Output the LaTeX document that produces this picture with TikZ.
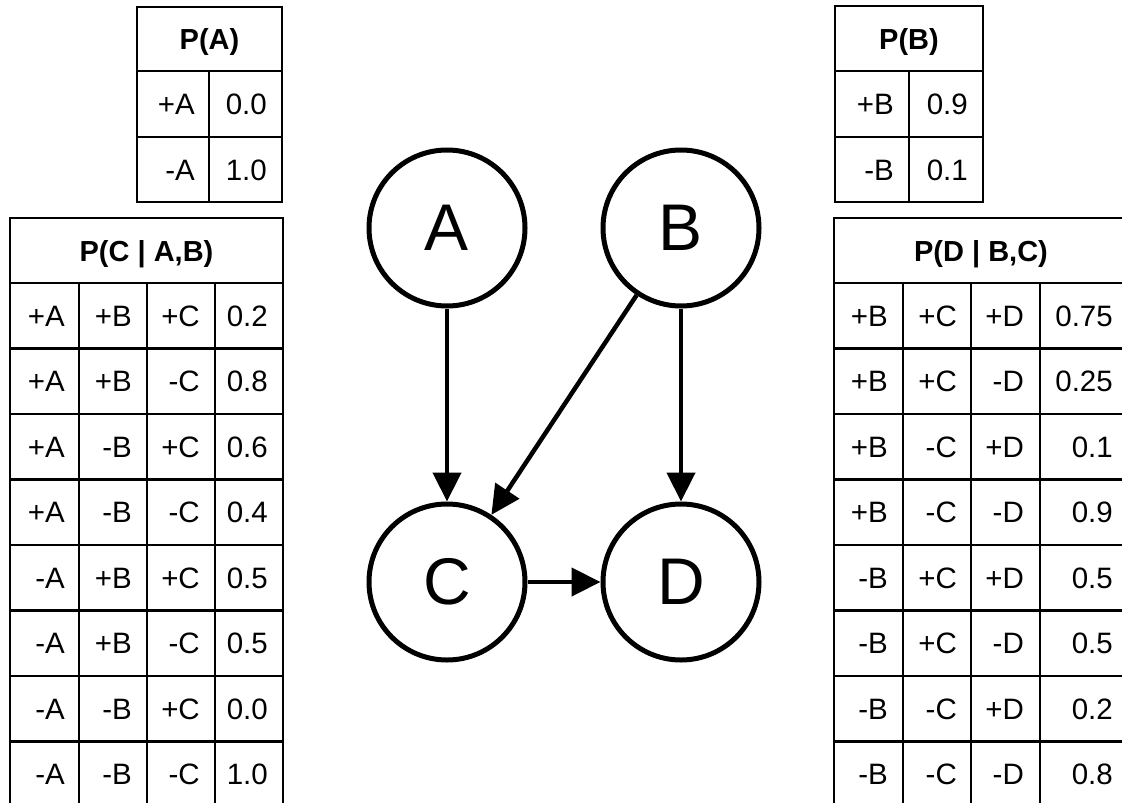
\documentclass[tikz,border=0pt]{standalone}
\usepackage{fontspec}
\setmainfont{Liberation Sans}
\usetikzlibrary{arrows.meta}
\begin{document}
\begin{tikzpicture}[x=1pt,y=-1pt,
  grid/.style={line width=2.2pt, line cap=rect},
  cell/.style={anchor=base east, inner sep=0pt, font=\fontsize{29.5}{32}\selectfont},
  head/.style={anchor=base, inner sep=0pt, font=\fontsize{29}{32}\selectfont\bfseries},
  var/.style={circle, draw, line width=5pt, minimum size=156pt, inner sep=0pt,
    font=\fontsize{66}{72}\selectfont},
  edge/.style={line width=4.5pt, -{Triangle[length=29pt,width=28pt]}}]
\useasboundingbox (0,0) rectangle (1122,803);

% ---- P(A) ----
\draw[grid] (137,7) rectangle (282,71);
\draw[grid] (137,71) rectangle (282,202);
\draw[grid] (137,137) -- (282,137);
\draw[grid] (209,71) -- (209,202);
\node[head] (pa-h) at (209.5,49.5) {P(A)};
\node[cell] (pa-11) at (195,114.5) {+A};
\node[cell] (pa-12) at (267,114.5) {0.0};
\node[cell] (pa-21) at (195,180) {-A};
\node[cell] (pa-22) at (267,180) {1.0};

% ---- P(B) ----
\draw[grid] (835,6) rectangle (983,71);
\draw[grid] (835,71) rectangle (983,202);
\draw[grid] (835,137) -- (983,137);
\draw[grid] (909,71) -- (909,202);
\node[head] (pb-h) at (909,49) {P(B)};
\node[cell] (pb-11) at (894,114.5) {+B};
\node[cell] (pb-12) at (968,114.5) {0.9};
\node[cell] (pb-21) at (894,180) {-B};
\node[cell] (pb-22) at (968,180) {0.1};

% ---- P(C | A,B) ----
\draw[grid] (10,218) rectangle (283,283);
\draw[grid] (10,283) rectangle (283,807);
\foreach \i in {1,...,7}
  \draw[grid] (10,283+65.5*\i) -- (283,283+65.5*\i);
\foreach \x in {79,147,215}
  \draw[grid] (\x,283) -- (\x,807);
\node[head] (pc-h) at (146.5,261) {P(C | A,B)};
\foreach \a/\b/\c/\p [count=\i from 0] in
  {+A/+B/+C/0.2, +A/+B/-C/0.8, +A/-B/+C/0.6, +A/-B/-C/0.4,
   -A/+B/+C/0.5, -A/+B/-C/0.5, -A/-B/+C/0.0, -A/-B/-C/1.0}{
  \pgfmathsetmacro\yy{283+65.5*\i+32.75+10.5}
  \node[cell] (pc-\i-1) at (65,\yy) {\a};
  \node[cell] (pc-\i-2) at (132,\yy) {\b};
  \node[cell] (pc-\i-3) at (200,\yy) {\c};
  \node[cell] (pc-\i-4) at (268,\yy) {\p};
}

% ---- P(D | B,C) ----
\draw[grid] (834,218) rectangle (1128,283);
\draw[grid] (834,283) rectangle (1128,807);
\foreach \i in {1,...,7}
  \draw[grid] (834,283+65.5*\i) -- (1128,283+65.5*\i);
\foreach \x in {903,971,1040}
  \draw[grid] (\x,283) -- (\x,807);
\node[head] (pd-h) at (981,261) {P(D | B,C)};
\foreach \b/\c/\d/\p [count=\i from 0] in
  {+B/+C/+D/0.75, +B/+C/-D/0.25, +B/-C/+D/0.1, +B/-C/-D/0.9,
   -B/+C/+D/0.5, -B/+C/-D/0.5, -B/-C/+D/0.2, -B/-C/-D/0.8}{
  \pgfmathsetmacro\yy{283+65.5*\i+32.75+10.5}
  \node[cell] (pd-\i-1) at (888,\yy) {\b};
  \node[cell] (pd-\i-2) at (957,\yy) {\c};
  \node[cell] (pd-\i-3) at (1024,\yy) {\d};
  \node[cell] (pd-\i-4) at (1113,\yy) {\p};
}

% ---- network ----
\node[var] (A) at (447,228) {A};
\node[var] (B) at (681,228) {B};
\node[var] (C) at (447,582) {C};
\node[var] (D) at (681,582) {D};

\draw[edge] (A) -- (C);
\draw[edge] (B) -- (C);
\draw[edge] (B) -- (D);
\draw[edge] (C) -- (D);
\end{tikzpicture}
\end{document}
